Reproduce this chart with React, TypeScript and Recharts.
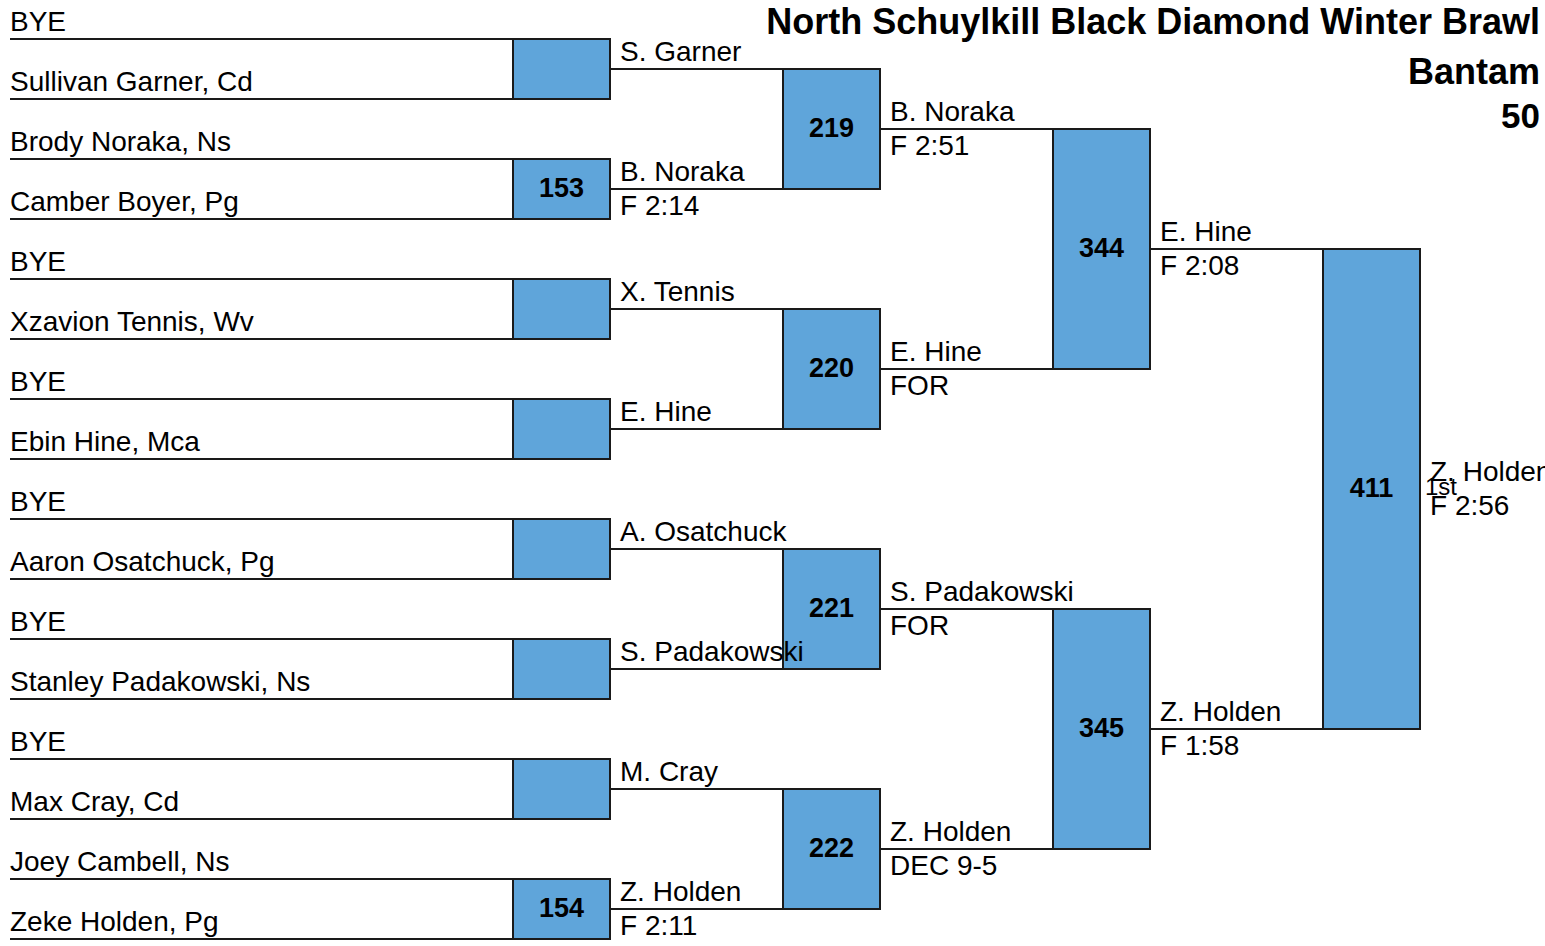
import { ScatterChart, Scatter, XAxis, YAxis, ReferenceLine, ReferenceArea } from 'recharts'

// bracket content
const title = 'North Schuylkill Black Diamond Winter Brawl'
const division = 'Bantam'
const weight = '50'

const entrants = [
  'BYE', 'Sullivan Garner, Cd', 'Brody Noraka, Ns', 'Camber Boyer, Pg',
  'BYE', 'Xzavion Tennis, Wv', 'BYE', 'Ebin Hine, Mca',
  'BYE', 'Aaron Osatchuck, Pg', 'BYE', 'Stanley Padakowski, Ns',
  'BYE', 'Max Cray, Cd', 'Joey Cambell, Ns', 'Zeke Holden, Pg',
]

const round1Bouts = ['', '153', '', '', '', '', '', '154']
const round1Winners = ['S. Garner', 'B. Noraka', 'X. Tennis', 'E. Hine', 'A. Osatchuck', 'S. Padakowski', 'M. Cray', 'Z. Holden']
const round1Results = ['', 'F 2:14', '', '', '', '', '', 'F 2:11']

const round2Bouts = ['219', '220', '221', '222']
const round2Winners = ['B. Noraka', 'E. Hine', 'S. Padakowski', 'Z. Holden']
const round2Results = ['F 2:51', 'FOR', 'FOR', 'DEC 9-5']

const round3Bouts = ['344', '345']
const round3Winners = ['E. Hine', 'Z. Holden']
const round3Results = ['F 2:08', 'F 1:58']

const round4Bouts = ['411']
const round4Winners = ['Z. Holden']
const round4Results = ['F 2:56']
const championPlace = '1st'

const rounds = [
  { bouts: round1Bouts, winners: round1Winners, results: round1Results },
  { bouts: round2Bouts, winners: round2Winners, results: round2Results },
  { bouts: round3Bouts, winners: round3Winners, results: round3Results },
  { bouts: round4Bouts, winners: round4Winners, results: round4Results },
]

// layout
const W = 1545
const H = 946
const ROW_PX = 60
const FIRST_ROW_PX = 39
const NAME_LEFT = 10
const COL_LEFT = 513
const COL_STEP = 270
const BOX_W = 97
const FONT = '"Liberation Sans", Arial, sans-serif'
const LINE = '#1a1a1a'
const BOX_FILL = '#5fa5da'

const colLeft = (r: number) => COL_LEFT + COL_STEP * (r - 1)
// vertical slot of the line coming out of round r, match j (round 0 = entrant lines)
const mid = (r: number, j: number) => j * 2 ** r + (2 ** r - 1) / 2
const pxToSlot = (px: number) => (px - FIRST_ROW_PX) / ROW_PX

type TextItem = {
  x: number; y: number; text: string; dy: number
  anchor?: 'start' | 'middle' | 'end'; bold?: boolean; size?: number
}

const texts: TextItem[] = []
const segments: { x1: number; x2: number; y: number }[] = []
const boxes: { x1: number; x2: number; y1: number; y2: number }[] = []

entrants.forEach((name, i) => {
  texts.push({ x: NAME_LEFT, y: i, text: name, dy: -8 })
  segments.push({ x1: NAME_LEFT, x2: colLeft(1), y: i })
})

rounds.forEach((round, k) => {
  const r = k + 1
  round.bouts.forEach((bout, j) => {
    const left = colLeft(r)
    const right = left + BOX_W
    boxes.push({ x1: left, x2: right, y1: mid(r - 1, 2 * j), y2: mid(r - 1, 2 * j + 1) })
    if (bout) texts.push({ x: left + BOX_W / 2, y: mid(r, j), text: bout, dy: 8, anchor: 'middle', bold: true, size: 27 })
    texts.push({ x: right + 10, y: mid(r, j), text: round.winners[j], dy: -8 })
    if (round.results[j]) texts.push({ x: right + 10, y: mid(r, j), text: round.results[j], dy: 26 })
    if (r < rounds.length) segments.push({ x1: right, x2: colLeft(r + 1), y: mid(r, j) })
  })
})

texts.push({ x: colLeft(4) + BOX_W + 5, y: mid(4, 0), text: championPlace, dy: 6, size: 24 })

texts.push({ x: 1540, y: pxToSlot(34), text: title, dy: 0, anchor: 'end', bold: true, size: 36 })
texts.push({ x: 1540, y: pxToSlot(84), text: division, dy: 0, anchor: 'end', bold: true, size: 36 })
texts.push({ x: 1540, y: pxToSlot(128), text: weight, dy: 0, anchor: 'end', bold: true, size: 35 })

function TextShape(props: { cx?: number; cy?: number; payload?: TextItem }) {
  const { cx = 0, cy = 0, payload } = props
  if (!payload) return null
  return (
    <text x={cx} y={cy + payload.dy} textAnchor={payload.anchor ?? 'start'}
      fontFamily={FONT} fontSize={payload.size ?? 28} fontWeight={payload.bold ? 'bold' : 'normal'} fill="#000">
      {payload.text}
    </text>
  )
}

export default function App() {
  return (
    <div style={{ position: 'absolute', left: 0, top: 0, background: '#fff' }}>
      <ScatterChart width={W} height={H} margin={{ top: 0, right: 0, bottom: 0, left: 0 }}>
        <XAxis type="number" dataKey="x" domain={[0, W]} allowDataOverflow hide />
        <YAxis type="number" dataKey="y" domain={[pxToSlot(0), pxToSlot(H)]} allowDataOverflow reversed hide />
        {segments.map((s, i) => (
          <ReferenceLine key={`l${i}`} segment={[{ x: s.x1, y: s.y }, { x: s.x2, y: s.y }]}
            stroke={LINE} strokeWidth={2} />
        ))}
        {boxes.map((b, i) => (
          <ReferenceArea key={`b${i}`} x1={b.x1} x2={b.x2} y1={b.y1} y2={b.y2}
            fill={BOX_FILL} fillOpacity={1} stroke={LINE} strokeWidth={2} />
        ))}
        <Scatter data={texts} shape={(p: any) => <TextShape {...p} />} isAnimationActive={false} />
      </ScatterChart>
    </div>
  )
}
